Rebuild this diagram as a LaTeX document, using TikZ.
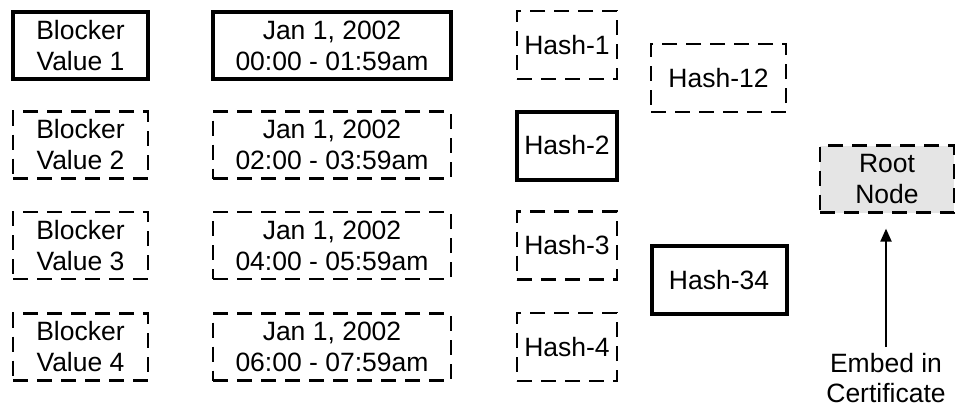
\documentclass[tikz,border=0pt]{standalone}
\usepackage{fontspec}
\setmainfont{Liberation Sans}
\usetikzlibrary{arrows.meta}
\definecolor{rootgray}{HTML}{E5E5E5}
\begin{document}
\begin{tikzpicture}[x=1pt,y=-1pt,
  box/.style={draw=black, rectangle, align=center, inner sep=0pt,
    font=\fontsize{26.5}{31}\selectfont},
  solidbox/.style={box, line width=4pt},
  dashbox/.style={box, line width=2.2pt, dash pattern=on 15pt off 9pt},
  blk/.style={minimum width=135pt, minimum height=67pt},
  dat/.style={minimum width=238pt, minimum height=67pt},
  hsh/.style={minimum width=100pt, minimum height=68pt},
  hsh2/.style={minimum width=135pt, minimum height=68pt},
  lbl/.style={align=center, inner sep=0pt, font=\fontsize{26.5}{30}\selectfont}
]
\useasboundingbox (0,0) rectangle (955,408);

\node[solidbox,blk] (b1) at (80.5,45.5) {Blocker\\Value 1};
\node[dashbox,blk]  (b2) at (80.5,145)  {Blocker\\Value 2};
\node[dashbox,blk]  (b3) at (80.5,245.5) {Blocker\\Value 3};
\node[dashbox,blk]  (b4) at (80.5,347) {Blocker\\Value 4};

\node[solidbox,dat] (d1) at (332,45.5) {Jan 1, 2002\\00:00 - 01:59am};
\node[dashbox,dat]  (d2) at (332,145)  {Jan 1, 2002\\02:00 - 03:59am};
\node[dashbox,dat]  (d3) at (332,245.5) {Jan 1, 2002\\04:00 - 05:59am};
\node[dashbox,dat]  (d4) at (332,347) {Jan 1, 2002\\06:00 - 07:59am};

\node[dashbox,hsh]  (h1) at (567,45) {Hash-1};
\node[solidbox,hsh] (h2) at (567,145.5) {Hash-2};
\node[dashbox,hsh]  (h3) at (567,245.5) {Hash-3};
\node[dashbox,hsh]  (h4) at (567,347) {Hash-4};

\node[dashbox,hsh2]  (h12) at (718.5,78) {Hash-12};
\node[solidbox,hsh2] (h34) at (719,280) {Hash-34};

\node[dashbox,fill=rootgray,minimum width=134pt,minimum height=67pt] (root) at (887,179) {Root\\Node};

\node[lbl,anchor=north] (embed) at (886,353) {Embed in\\Certificate};

\draw[line width=2pt,-{Triangle[length=13pt,width=11pt]},shorten <=6pt,shorten >=15pt] (embed.north) -- (embed.north |- root.south);
\end{tikzpicture}
\end{document}
